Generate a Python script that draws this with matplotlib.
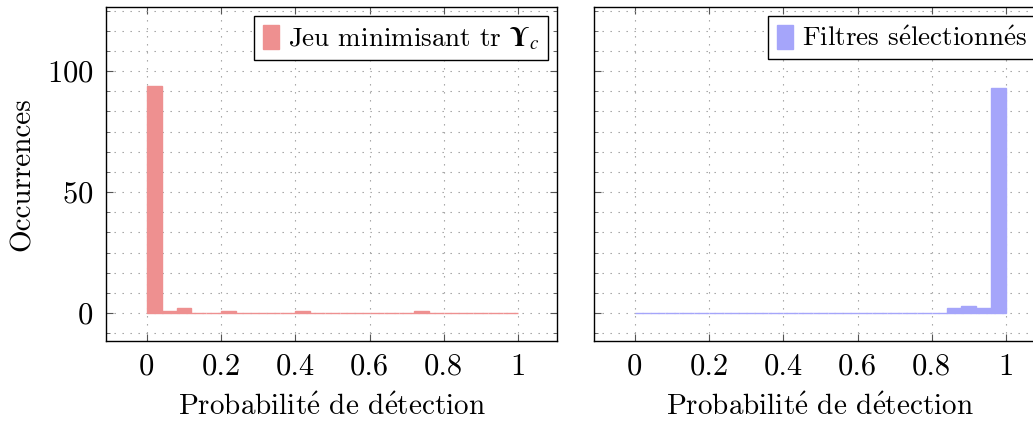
import numpy as np
import matplotlib.pyplot as plt
from matplotlib.ticker import MultipleLocator, FixedLocator

plt.rcParams['font.family'] = ['cmr10', 'DejaVu Serif']
plt.rcParams['mathtext.fontset'] = 'cm'
plt.rcParams['axes.formatter.use_mathtext'] = True

# histogram data: 25 bins of width 0.04 on [0, 1]
bin_edges = np.linspace(0, 1, 26)
counts_min = [94, 1, 2, 0, 0, 1, 0, 0, 0, 0, 1, 0, 0, 0, 0, 0, 0, 0, 1, 0, 0, 0, 0, 0, 0]
counts_sel = [0, 0, 0, 0, 0, 0, 0, 0, 0, 0, 0, 0, 0, 0, 0, 0, 0, 0, 0, 0, 0, 2, 3, 2, 93]

labels = [r'Jeu minimisant tr $\boldsymbol{\Upsilon}_c$', r'Filtres s$\acute{\rm e}$lectionn$\acute{\rm e}$s']
xlabel = r'Probabilit$\acute{\rm e}$ de d$\acute{\rm e}$tection'
colors = ['#EE9090', '#A5A5FA']
xticks = [0, 0.2, 0.4, 0.6, 0.8, 1]
xtick_labels = ['0', '0.2', '0.4', '0.6', '0.8', '1']

fs = 21
fig = plt.figure(figsize=(10.33, 4.21), dpi=100)
W, H = 1033, 421
ax1 = fig.add_axes([106 / W, (H - 341) / H, 451 / W, 334 / H])
ax2 = fig.add_axes([594 / W, (H - 341) / H, 451 / W, 334 / H])

grid_ls = (0, (1.2, 6))
for ax, counts, color, label in zip([ax1, ax2], [counts_min, counts_sel], colors, labels):
    ax.bar(bin_edges[:-1], counts, width=np.diff(bin_edges), align='edge',
           color=color, edgecolor=color, linewidth=1.0, label=label, zorder=3)
    ax.set_xlim(-0.11, 1.105)
    ax.set_ylim(-11.5, 126.5)
    ax.xaxis.set_major_locator(FixedLocator(xticks))
    ax.set_xticklabels(xtick_labels)
    ax.yaxis.set_major_locator(MultipleLocator(50))
    ax.yaxis.set_minor_locator(MultipleLocator(50 / 6))
    ax.grid(True, which='major', color='#999999', linestyle=grid_ls, linewidth=0.8, zorder=0)
    ax.grid(True, which='minor', axis='y', color='#999999', linestyle=grid_ls, linewidth=0.8, zorder=0)
    ax.tick_params(which='both', direction='in', top=True, right=True, labelsize=22, color='#555555')
    ax.tick_params(which='major', length=5, width=0.8, pad=9)
    ax.tick_params(which='minor', length=3, width=0.6)
    for s in ax.spines.values():
        s.set_linewidth(1.0)
    ax.set_xlabel(xlabel, fontsize=fs, labelpad=9)
    leg = ax.legend(loc='upper right', fontsize=19.5, fancybox=False, framealpha=1,
                    edgecolor='black', handlelength=0.6, handleheight=1.0,
                    handletextpad=0.35, borderpad=0.3, borderaxespad=0.35)
    leg.get_frame().set_linewidth(1.0)

# bold Upsilon needs a math font with bold Greek capitals
ax1.get_legend().get_texts()[0].set_math_fontfamily('stix')

ax1.set_ylabel('Occurrences', fontsize=fs, labelpad=8)
ax2.set_yticklabels([])

plt.savefig('out.png', dpi=100)
